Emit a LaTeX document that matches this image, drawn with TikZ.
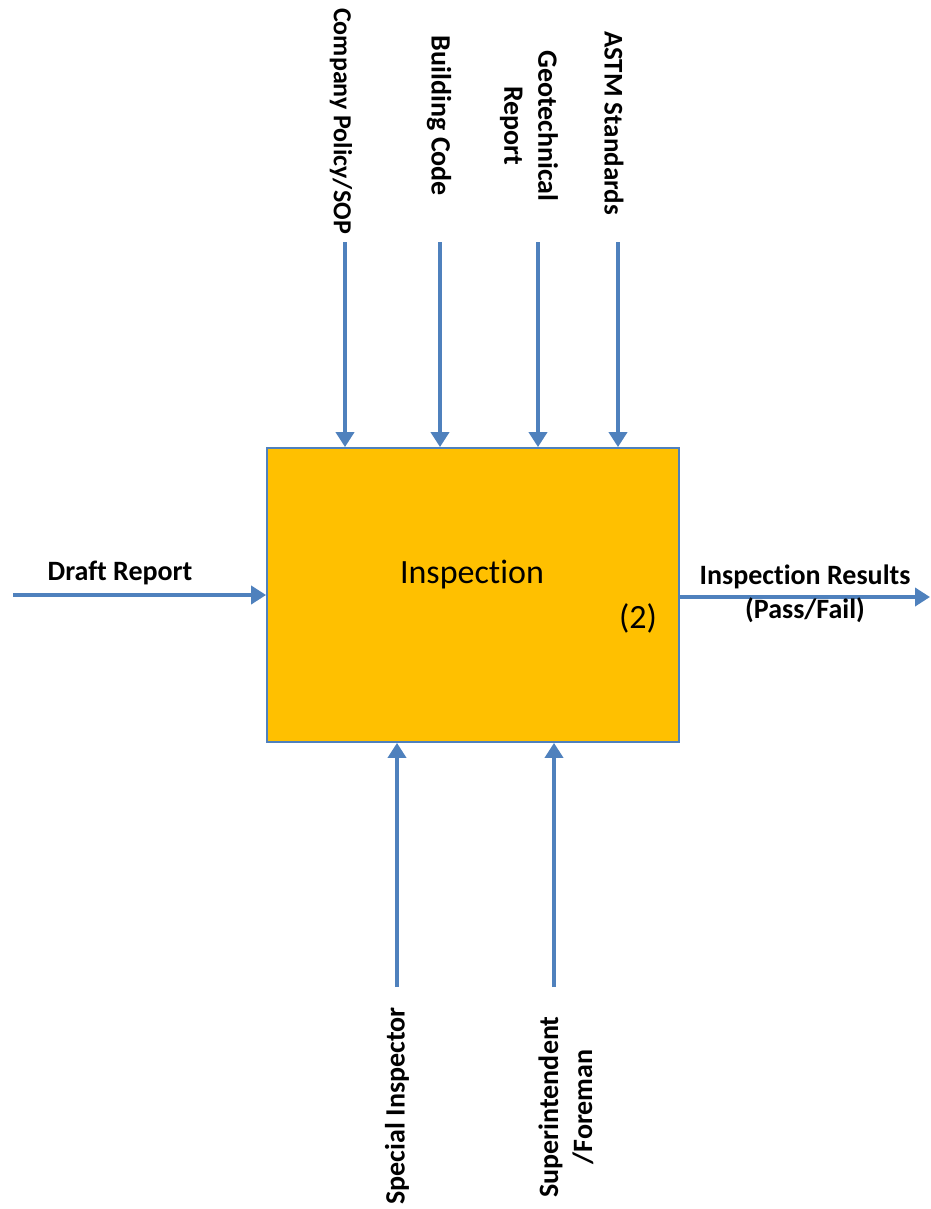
\documentclass[tikz,border=0pt]{standalone}
\usepackage{fontspec}
\setmainfont{Carlito}[Ligatures=NoCommon]
\usetikzlibrary{arrows.meta}
\definecolor{flowblue}{RGB}{79,129,189}
\definecolor{boxfill}{RGB}{255,192,0}
\begin{document}
\begin{tikzpicture}[x=1pt,y=-1pt,
  flow/.style={draw=flowblue,line width=4pt,-{Triangle[length=15pt,width=18pt]}},
  lab/.style={font=\fontsize{28}{34}\selectfont\bfseries,align=center,inner sep=0pt},
  actbox/.style={draw=flowblue,line width=1.8pt,fill=boxfill,minimum width=412pt,minimum height=294pt,inner sep=0pt}]
\useasboundingbox (0,0) rectangle (930,1209);

% activity box
\node[actbox] (ins) at (473,595) {};
\node[font=\fontsize{34}{40}\selectfont,inner sep=0pt] (title) at (472,575) {Inspection};
\node[font=\fontsize{34}{40}\selectfont,inner sep=0pt] (num) at (638,618) {(2)};

% free ends of the connectors
\coordinate (c1) at (345,242);
\coordinate (c2) at (440,242);
\coordinate (c3) at (538,242);
\coordinate (c4) at (618,242);
\coordinate (m1) at (397,987);
\coordinate (m2) at (554,987);
\coordinate (in) at (13,595);
\coordinate (out) at (930,597);

% controls
\draw[flow] (c1) -- (c1 |- ins.north);
\draw[flow] (c2) -- (c2 |- ins.north);
\draw[flow] (c3) -- (c3 |- ins.north);
\draw[flow] (c4) -- (c4 |- ins.north);
% mechanisms
\draw[flow] (m1) -- (m1 |- ins.south);
\draw[flow] (m2) -- (m2 |- ins.south);
% input and output
\draw[flow] (in) -- (in -| ins.west);
\draw[flow] (out -| ins.east) -- (out);

% labels
\node[lab,rotate=-90,font=\fontsize{26}{32}\selectfont\bfseries] (l1) at (341,121) {Company Policy/SOP};
\node[lab,rotate=-90] (l2) at (439,116) {Building Code};
\node[lab,rotate=-90] (l3) at (529,126) {Geotechnical\\Report};
\node[lab,rotate=-90,font=\fontsize{27}{33}\selectfont\bfseries] (l4) at (614,123) {ASTM Standards};
\node[lab,rotate=90] (l5) at (397,1106) {Special Inspector};
\node[lab,rotate=90] (l6) at (566,1107) {Superintendent\\/Foreman};
\node[lab] (l7) at (120,573) {Draft Report};
\node[lab] (l8) at (805,594) {Inspection Results\\(Pass/Fail)};
\end{tikzpicture}
\end{document}
